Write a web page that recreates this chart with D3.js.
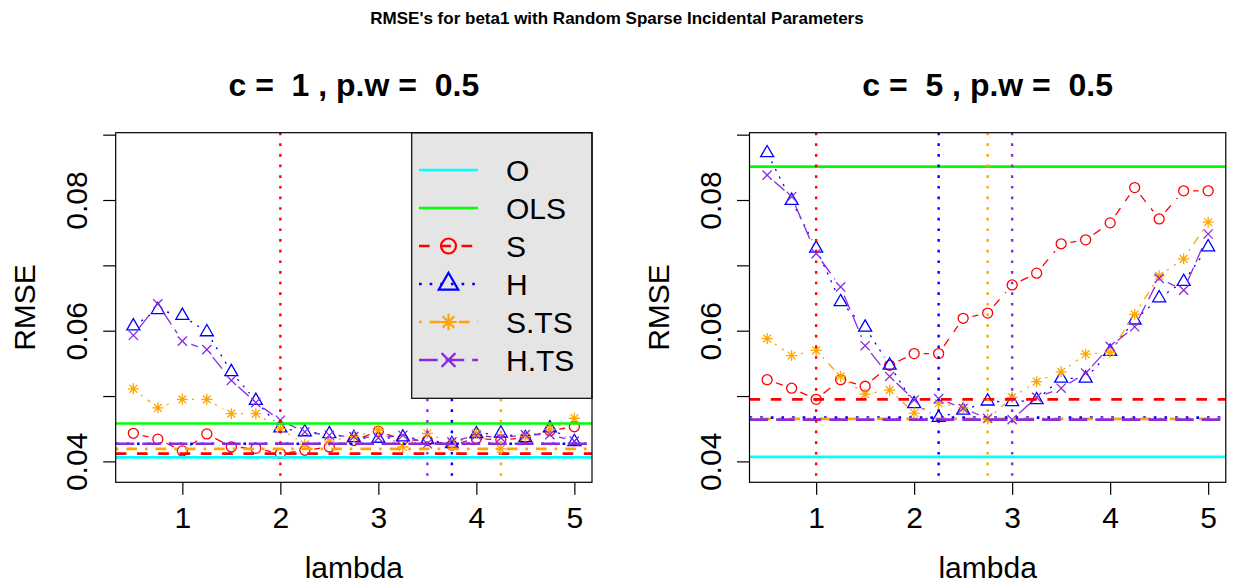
<!DOCTYPE html>
<html>
<head>
<meta charset="utf-8">
<script src="https://cdn.jsdelivr.net/npm/d3@7"></script>
<style>
  body { margin: 0; background: #fff; }
  text { font-family: "Liberation Sans", Arial, Helvetica, sans-serif; fill: #000; white-space: pre; }
</style>
</head>
<body>
<svg id="chart" width="1233" height="586"></svg>
<script>
// ---- data ----
var lambda = [0.5, 0.75, 1, 1.25, 1.5, 1.75, 2, 2.25, 2.5, 2.75, 3, 3.25, 3.5, 3.75, 4, 4.25, 4.5, 4.75, 5];
var xTicks = [1, 2, 3, 4, 5];
var yTicks = [0.04, 0.05, 0.06, 0.07, 0.08, 0.09];
var yLabelTicks = [0.04, 0.06, 0.08];
var methods = ["O", "OLS", "S", "H", "S.TS", "H.TS"];
var colors = ["#00ffff", "#00ff00", "#ff0000", "#0000ff", "#ffa500", "#8a2be2"];
var panelTitles = ["c =  1 , p.w =  0.5", "c =  5 , p.w =  0.5"];

// c = 1
var O_c1 = 0.0406;
var OLS_c1 = 0.0458;
var S_c1 = [0.0443, 0.0434, 0.0416, 0.0442, 0.0422, 0.0420, 0.0412, 0.0417, 0.0422, 0.0432, 0.0446, 0.0433, 0.0432, 0.0425, 0.0435, 0.0433, 0.0436, 0.0447, 0.0453];
var H_c1 = [0.0607, 0.0632, 0.0623, 0.0598, 0.0537, 0.0493, 0.0451, 0.0445, 0.0442, 0.0436, 0.0435, 0.0437, 0.0433, 0.0427, 0.0442, 0.0443, 0.0436, 0.0451, 0.0430];
var STS_c1 = [0.0511, 0.0482, 0.0495, 0.0495, 0.0473, 0.0473, 0.0450, 0.0426, 0.0431, 0.0438, 0.0448, 0.0422, 0.0443, 0.0428, 0.0443, 0.0419, 0.0438, 0.0449, 0.0466];
var HTS_c1 = [0.0593, 0.0641, 0.0584, 0.0571, 0.0524, 0.0490, 0.0463, 0.0445, 0.0440, 0.0438, 0.0436, 0.0440, 0.0427, 0.0430, 0.0440, 0.0436, 0.0441, 0.0441, 0.0431];

// c = 5
var O_c5 = 0.0407;
var OLS_c5 = 0.0851;
var S_c5 = [0.0525, 0.0512, 0.0495, 0.0525, 0.0515, 0.0547, 0.0565, 0.0565, 0.0619, 0.0627, 0.0670, 0.0688, 0.0733, 0.0739, 0.0765, 0.0819, 0.0771, 0.0814, 0.0814];
var H_c5 = [0.0872, 0.0799, 0.0726, 0.0644, 0.0605, 0.0547, 0.0488, 0.0467, 0.0478, 0.0492, 0.0491, 0.0494, 0.0527, 0.0527, 0.0568, 0.0616, 0.0650, 0.0675, 0.0728];
var STS_c5 = [0.0588, 0.0562, 0.0570, 0.0530, 0.0503, 0.0509, 0.0474, 0.0489, 0.0482, 0.0465, 0.0498, 0.0522, 0.0537, 0.0564, 0.0567, 0.0625, 0.0684, 0.0710, 0.0766];
var HTS_c5 = [0.0838, 0.0805, 0.0718, 0.0667, 0.0577, 0.0530, 0.0494, 0.0496, 0.0481, 0.0466, 0.0464, 0.0498, 0.0512, 0.0535, 0.0576, 0.0606, 0.0680, 0.0662, 0.0748];

// ---- layout / style ----
var svg = d3.select("#chart");
var xDomain = [0.32, 5.18];
var yDomain = [0.0368, 0.0903];
var plotTop = 132.7, plotBottom = 482.3;
var panelLeft = [115.7, 749.5], panelWidth = 476.3;

// R style line types, scaled by lwd
function dash(lty, lwd) {
  var u = 1.33 * lwd;
  var pat = { solid: null, dashed: [4, 4], dotted: [1, 3], dotdash: [1, 3, 4, 3], longdash: [7, 3] }[lty];
  return pat ? pat.map(function (p) { return p * u; }).join(",") : null;
}
var ltys = ["solid", "solid", "dashed", "dotted", "dotdash", "longdash"];
var pchs = [null, null, "circle", "triangle", "star", "cross"];

function markerPath(type, s) {
  // s = scale factor
  if (type == "circle") {
    var r = 5 * s;
    return "M" + (-r) + ",0A" + r + "," + r + " 0 1,0 " + r + ",0A" + r + "," + r + " 0 1,0 " + (-r) + ",0Z";
  }
  if (type == "triangle") {
    var a = 13 * s, h = a / Math.sqrt(3);
    return "M0," + (-h) + "L" + (a / 2) + "," + (h / 2) + "L" + (-a / 2) + "," + (h / 2) + "Z";
  }
  if (type == "star") {
    var k = 5.5 * s, d = k * 0.7071;
    return "M" + (-k) + ",0L" + k + ",0M0," + (-k) + "L0," + k +
      "M" + (-d) + "," + (-d) + "L" + d + "," + d + "M" + (-d) + "," + d + "L" + d + "," + (-d);
  }
  if (type == "cross") {
    var c = 4.6 * s;
    return "M" + (-c) + "," + (-c) + "L" + c + "," + c + "M" + (-c) + "," + c + "L" + c + "," + (-c);
  }
  return "";
}

// segments between consecutive points, leaving a gap around each point (R type = "b")
function gapSegments(pts, gap) {
  var segs = [];
  for (var i = 0; i < pts.length - 1; i++) {
    var p = pts[i], q = pts[i + 1];
    var dx = q[0] - p[0], dy = q[1] - p[1], len = Math.sqrt(dx * dx + dy * dy);
    if (len <= 2 * gap) continue;
    var ux = dx / len, uy = dy / len;
    segs.push([p[0] + ux * gap, p[1] + uy * gap, q[0] - ux * gap, q[1] - uy * gap]);
  }
  return segs;
}

// main title
svg.append("text")
  .attr("x", 617).attr("y", 24)
  .attr("text-anchor", "middle")
  .style("font-size", "17px").style("font-weight", "bold")
  .text("RMSE's for beta1 with Random Sparse Incidental Parameters");

var panels = [
  { O: O_c1, OLS: OLS_c1, series: [S_c1, H_c1, STS_c1, HTS_c1], legend: true },
  { O: O_c5, OLS: OLS_c5, series: [S_c5, H_c5, STS_c5, HTS_c5], legend: false }
];

panels.forEach(function (p, pi) {
  var left = panelLeft[pi], right = left + panelWidth;
  var x = d3.scaleLinear().domain(xDomain).range([left, right]);
  var y = d3.scaleLinear().domain(yDomain).range([plotBottom, plotTop]);
  var g = svg.append("g");

  // clip for the plot region
  var clipId = "clip" + pi;
  svg.append("clipPath").attr("id", clipId).append("rect")
    .attr("x", left).attr("y", plotTop).attr("width", right - left).attr("height", plotBottom - plotTop);
  var plot = g.append("g").attr("clip-path", "url(#" + clipId + ")");

  // series with points and gapped lines
  p.series.forEach(function (vals, si) {
    var mi = si + 2;
    var pts = vals.map(function (v, i) { return [x(lambda[i]), y(v)]; });
    plot.append("g").selectAll("line")
      .data(gapSegments(pts, 9.5))
      .enter().append("line")
      .attr("x1", function (d) { return d[0]; })
      .attr("y1", function (d) { return d[1]; })
      .attr("x2", function (d) { return d[2]; })
      .attr("y2", function (d) { return d[3]; })
      .attr("stroke", colors[mi])
      .attr("stroke-width", 1.3)
      .attr("stroke-dasharray", dash(ltys[mi], 1.6));
    plot.append("g").selectAll("path")
      .data(vals)
      .enter().append("path")
      .attr("transform", function (d, i) { return "translate(" + x(lambda[i]) + "," + y(d) + ")"; })
      .attr("d", markerPath(pchs[mi], 1))
      .attr("fill", "none")
      .attr("stroke", colors[mi])
      .attr("stroke-width", 1.3);
  });

  // horizontal reference lines: O, OLS, and the minimum of each method
  var hvals = [p.O, p.OLS].concat(p.series.map(function (v) { return d3.min(v); }));
  plot.append("g").selectAll("line")
    .data(hvals)
    .enter().append("line")
    .attr("x1", left).attr("x2", right)
    .attr("y1", function (d) { return y(d); })
    .attr("y2", function (d) { return y(d); })
    .attr("stroke", function (d, i) { return colors[i]; })
    .attr("stroke-width", 2.7)
    .attr("stroke-dasharray", function (d, i) { return dash(ltys[i], 2); });

  // vertical lines at the selected lambda of each method
  var vsel = p.series.map(function (v) { return lambda[d3.minIndex(v)]; });
  plot.append("g").selectAll("line")
    .data(vsel)
    .enter().append("line")
    .attr("x1", function (d) { return x(d); })
    .attr("x2", function (d) { return x(d); })
    .attr("y1", plotTop).attr("y2", plotBottom)
    .attr("stroke", function (d, i) { return colors[i + 2]; })
    .attr("stroke-width", 2.4)
    .attr("stroke-dasharray", dash("dotted", 2));

  // legend
  if (p.legend) {
    var lg = g.append("g");
    var lx = 411.7, lw = right - lx, lh = 265.6;
    lg.append("rect")
      .attr("x", lx).attr("y", plotTop).attr("width", lw).attr("height", lh)
      .attr("fill", "#e5e5e5").attr("stroke", "#000").attr("stroke-width", 1.2);
    var rows = lg.selectAll("g.row")
      .data(methods)
      .enter().append("g").attr("class", "row")
      .attr("transform", function (d, i) { return "translate(0," + (170 + i * 38) + ")"; });
    rows.append("line")
      .attr("x1", 419).attr("x2", 478).attr("y1", 0).attr("y2", 0)
      .attr("stroke", function (d, i) { return colors[i]; })
      .attr("stroke-width", 2.7)
      .attr("stroke-dasharray", function (d, i) { return dash(ltys[i], 2); });
    rows.append("path")
      .attr("transform", "translate(448.5,0)")
      .attr("d", function (d, i) { return markerPath(pchs[i], 1.5); })
      .attr("fill", "none")
      .attr("stroke", function (d, i) { return colors[i]; })
      .attr("stroke-width", 2.2);
    rows.append("text")
      .attr("x", 506).attr("y", 10.5)
      .style("font-size", "30px")
      .text(function (d) { return d; });
  }

  // box
  g.append("rect")
    .attr("x", left).attr("y", plotTop).attr("width", right - left).attr("height", plotBottom - plotTop)
    .attr("fill", "none").attr("stroke", "#000").attr("stroke-width", 1.2);

  // x axis
  var xa = g.append("g").attr("transform", "translate(0," + plotBottom + ")")
    .call(d3.axisBottom(x).tickValues(xTicks).tickSize(12.5).tickFormat(d3.format("d")));
  xa.select(".domain").remove();
  xa.selectAll(".tick line").attr("stroke", "#000").attr("stroke-width", 1.2);
  xa.selectAll(".tick text").attr("y", 46).attr("dy", null)
    .style("font-size", "30px").attr("fill", "#000");

  // y axis
  var ya = g.append("g").attr("transform", "translate(" + left + ",0)")
    .call(d3.axisLeft(y).tickValues(yTicks).tickSize(12.5)
      .tickFormat(function (d) { return yLabelTicks.indexOf(d) >= 0 ? d3.format(".2f")(d) : ""; }));
  ya.select(".domain").remove();
  ya.selectAll(".tick line").attr("stroke", "#000").attr("stroke-width", 1.2);
  ya.selectAll(".tick text")
    .attr("x", null).attr("dy", null)
    .attr("transform", "translate(-28.7,0) rotate(-90)")
    .attr("text-anchor", "middle")
    .style("font-size", "30px").attr("fill", "#000");

  // axis titles
  g.append("text")
    .attr("transform", "translate(" + (left - 81) + "," + ((plotTop + plotBottom) / 2) + ") rotate(-90)")
    .attr("text-anchor", "middle")
    .style("font-size", "30px")
    .text("RMSE");
  g.append("text")
    .attr("x", (left + right) / 2).attr("y", 578)
    .attr("text-anchor", "middle")
    .style("font-size", "30px")
    .text("lambda");

  // panel title
  g.append("text")
    .attr("x", (left + right) / 2).attr("y", 96)
    .attr("text-anchor", "middle")
    .style("font-size", "32px").style("font-weight", "bold")
    .text(panelTitles[pi]);
});
</script>
</body>
</html>
